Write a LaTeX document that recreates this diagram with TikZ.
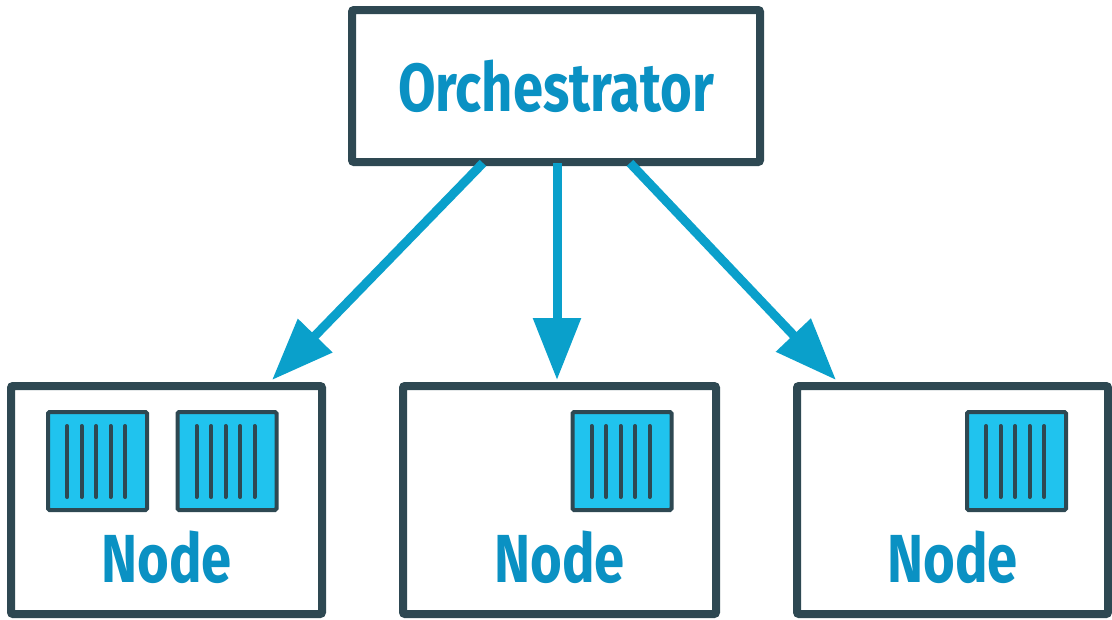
\documentclass[tikz,border=0pt]{standalone}
\usepackage{fontspec}
\newfontfamily\labfont[FakeStretch=0.8]{Fira Sans}
\usetikzlibrary{arrows.meta,calc}
\definecolor{dark}{HTML}{2E4852}
\definecolor{txtblue}{HTML}{0A91C3}
\definecolor{arrblue}{HTML}{0AA0CB}
\definecolor{cfill}{HTML}{20C3EE}
\tikzset{
  frame/.style={draw=dark, line width=8pt, rounded corners=2pt, fill=white, inner sep=0pt, outer sep=0pt},
  lbl/.style={text=txtblue, font=\labfont\bfseries\fontsize{68}{68}\selectfont, inner sep=0pt},
  conn/.style={draw=arrblue, line width=9pt, -{Triangle[length=62pt,width=46pt]}},
  container/.pic={
    \draw[dark, line width=4pt, fill=cfill, rounded corners=1.5pt] (-49.5,-49) rectangle (49.5,49);
    \foreach \dx in {-29,-14.5,0,14.5,29}
      \draw[dark, line width=4pt, line cap=round] (\dx-1.4,-35) -- (\dx-1.4,36);
  }
}
\begin{document}
\begin{tikzpicture}[x=1pt,y=-1pt]
\useasboundingbox[fill=white] (0,0) rectangle (1112,619);
% orchestrator
\node[frame, lbl, minimum width=408pt, minimum height=152pt] (orch) at (556,86) {Orchestrator};
% worker nodes
\node[frame, minimum width=311pt, minimum height=228pt] (n1) at (166.5,500) {};
\node[frame, minimum width=313pt, minimum height=228pt] (n2) at (559.5,500) {};
\node[frame, minimum width=311pt, minimum height=228pt] (n3) at (952.5,500) {};
% containers
\pic at ($(n1.center)+(-69,-39)$) {container};
\pic at ($(n1.center)+(60.5,-39)$) {container};
\pic at ($(n2.center)+(62.5,-39)$) {container};
\pic at ($(n3.center)+(64,-39)$) {container};
% labels
\node[lbl, anchor=base] (t1) at ($(n1.center)+(0,82)$) {Node};
\node[lbl, anchor=base] (t2) at ($(n2.center)+(0,82)$) {Node};
\node[lbl, anchor=base] (t3) at ($(n3.center)+(0,82)$) {Node};
% connectors
\draw[conn] ($(orch.south)+(-73,1)$) -- ($(n1.north east)+(-50,-6)$);
\draw[conn] ($(orch.south)+(1,1)$) -- ($(orch.south |- n2.north)+(1,-6)$);
\draw[conn] ($(orch.south)+(74,1)$) -- ($(n3.north west)+(39,-6)$);
\end{tikzpicture}
\end{document}
